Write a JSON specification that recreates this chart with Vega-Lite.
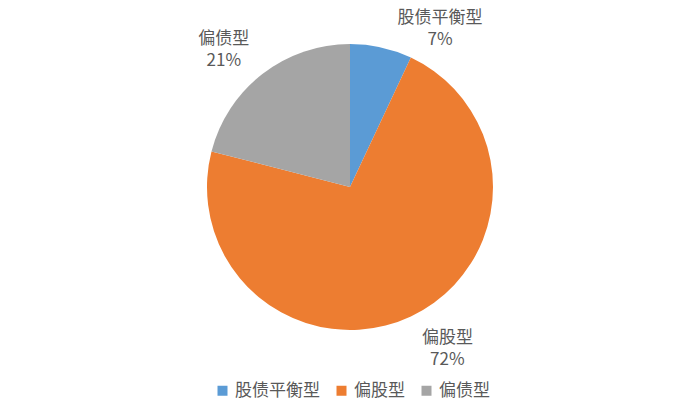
{
  "$schema": "https://vega.github.io/schema/vega-lite/v6.json",
  "width": 700,
  "height": 374,
  "padding": {"left": 0, "top": 0, "right": 0, "bottom": 46},
  "autosize": "none",
  "background": "white",
  "config": {
    "font": "Noto Sans CJK SC",
    "view": {"stroke": null}
  },
  "data": {
    "values": [
      {"type": "股债平衡型", "share": 7, "pct": "7%", "idx": 1},
      {"type": "偏股型", "share": 72, "pct": "72%", "idx": 2},
      {"type": "偏债型", "share": 21, "pct": "21%", "idx": 3}
    ]
  },
  "transform": [
    {"calculate": "[datum.type, datum.pct]", "as": "label"}
  ],
  "encoding": {
    "theta": {"field": "share", "type": "quantitative", "stack": true},
    "order": {"field": "idx", "type": "quantitative"},
    "color": {
      "field": "type",
      "type": "nominal",
      "scale": {
        "domain": ["股债平衡型", "偏股型", "偏债型"],
        "range": ["#5B9BD5", "#ED7D31", "#A5A5A5"]
      },
      "legend": {
        "title": null,
        "orient": "none",
        "direction": "horizontal",
        "legendX": 214,
        "legendY": 382,
        "symbolType": "square",
        "symbolSize": 100,
        "symbolStrokeWidth": 0,
        "labelFontSize": 17,
        "labelColor": "#595959",
        "labelFont": "Noto Sans CJK SC",
        "columnPadding": 13,
        "labelOffset": 4
      }
    }
  },
  "layer": [
    {
      "mark": {"type": "arc", "outerRadius": 143}
    },
    {
      "mark": {
        "type": "text", "radius": 170, "dx": 53, "dy": -3,
        "fontSize": 17, "lineHeight": 22, "baseline": "middle", "color": "#595959"
      },
      "encoding": {
        "text": {"condition": {"test": "datum.idx == 1", "field": "label"}, "value": ""},
        "color": {"value": "#595959"}
      }
    },
    {
      "mark": {
        "type": "text", "radius": 170, "dx": 25, "dy": -3,
        "fontSize": 17, "lineHeight": 22, "baseline": "middle", "color": "#595959"
      },
      "encoding": {
        "text": {"condition": {"test": "datum.idx == 2", "field": "label"}, "value": ""},
        "color": {"value": "#595959"}
      }
    },
    {
      "mark": {
        "type": "text", "radius": 170, "dx": -22, "dy": -14,
        "fontSize": 17, "lineHeight": 22, "baseline": "middle", "color": "#595959"
      },
      "encoding": {
        "text": {"condition": {"test": "datum.idx == 3", "field": "label"}, "value": ""},
        "color": {"value": "#595959"}
      }
    }
  ]
}
